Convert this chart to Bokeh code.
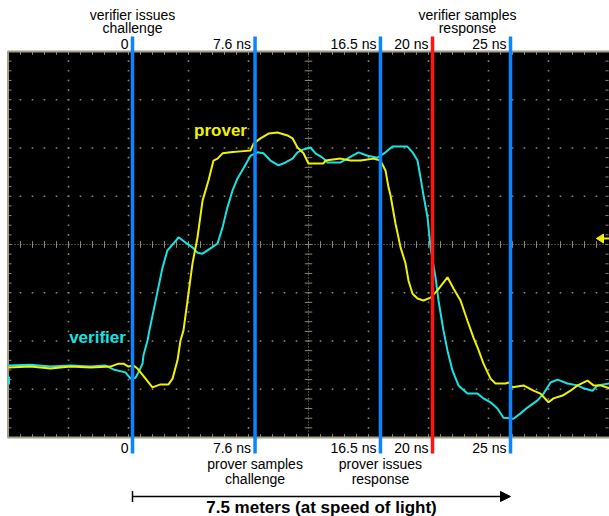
import numpy as np
from bokeh.plotting import figure
from bokeh.models import Range1d, Arrow, NormalHead, TeeHead
from bokeh.core.properties import value
from bokeh.embed import file_html
from bokeh.resources import INLINE

# ---------------- data (time in ns, amplitude in scope divisions) ----------------
t_prover = [-8.27, -6.8, -5.47, -4.13, -2.8, -1.47, -0.93, -0.6, -0.27, 0.07,
            0.33, 0.87, 1.33, 1.87, 2.4, 2.67, 3.0, 3.2, 3.4, 3.67,
            4.0, 4.33, 4.67, 5.07, 5.4, 5.67, 6.0, 6.53, 7.2, 7.87,
            8.07, 8.53, 9.07, 9.67, 10.33, 10.67, 11.0, 11.4, 11.73, 12.73,
            12.87, 13.87, 14.53, 15.2, 16.07, 16.53, 16.87, 17.07, 17.2, 17.53,
            17.87, 18.2, 18.4, 18.67, 19.0, 19.4, 19.87, 20.33, 21.0, 21.4,
            21.87, 22.33, 22.73, 23.0, 23.4, 23.87, 24.2, 24.87, 25.07, 25.33,
            26.07, 26.73, 27.2, 27.73, 28.07, 28.67, 29.2, 29.67, 30.33, 30.73,
            31.2, 31.8]
v_prover = [-2.55, -2.53, -2.57, -2.53, -2.55, -2.53, -2.47, -2.47, -2.53, -2.51,
            -2.57, -2.78, -2.96, -2.90, -2.90, -2.78, -2.40, -1.99, -1.78, -1.16,
            -0.39, 0.14, 0.91, 1.33, 1.74, 1.78, 1.89, 1.91, 1.93, 1.95,
            2.09, 2.20, 2.30, 2.32, 2.26, 2.20, 2.01, 1.89, 1.68, 1.68,
            1.74, 1.78, 1.74, 1.74, 1.78, 1.74, 1.53, 1.18, 1.02, 0.44,
            -0.06, -0.39, -0.75, -1.02, -1.12, -1.16, -1.10, -0.95, -0.68, -0.91,
            -1.16, -1.58, -1.93, -2.13, -2.47, -2.78, -2.88, -2.88, -2.86, -2.96,
            -2.92, -3.03, -3.09, -3.27, -3.19, -3.13, -3.03, -2.92, -2.82, -2.92,
            -2.92, -2.98]

t_verifier = [-8.27, -6.8, -5.47, -4.13, -2.8, -1.8, -1.27, -0.47, -0.13, 0.2,
              0.4, 0.67, 0.73, 1.0, 1.13, 2.0, 2.33, 2.73, 3.07, 3.53,
              4.0, 4.33, 4.67, 5.2, 5.67, 6.0, 6.33, 6.67, 7.0, 7.4,
              7.87, 8.33, 8.73, 9.2, 9.73, 10.2, 10.67, 11.0, 11.4, 11.87,
              12.2, 12.67, 13.0, 13.87, 14.33, 14.67, 15.07, 15.67, 16.33, 16.87,
              17.33, 18.33, 18.67, 19.0, 19.2, 19.4, 19.67, 19.87, 20.2, 20.4,
              20.73, 21.0, 21.33, 21.73, 22.33, 23.0, 23.4, 23.87, 24.33, 24.73,
              25.4, 25.87, 26.33, 27.0, 27.4, 27.87, 28.33, 29.0, 29.67, 30.07,
              30.67, 31.0, 31.8]
v_verifier = [-2.51, -2.49, -2.53, -2.51, -2.53, -2.51, -2.59, -2.65, -2.78, -2.76,
              -2.65, -2.47, -2.30, -1.99, -1.78, -0.48, -0.12, 0.02, 0.15, 0.04,
              -0.06, -0.17, -0.19, -0.08, 0.02, 0.35, 0.77, 1.12, 1.37, 1.58,
              1.84, 1.91, 1.89, 1.74, 1.64, 1.70, 1.78, 1.91, 1.97, 2.01,
              1.89, 1.80, 1.70, 1.70, 1.78, 1.84, 1.91, 1.84, 1.80, 1.91,
              2.03, 2.03, 1.91, 1.74, 1.39, 1.02, 0.56, -0.06, -0.68, -1.16,
              -1.78, -2.20, -2.61, -2.92, -3.09, -3.09, -3.19, -3.27, -3.40, -3.59,
              -3.61, -3.50, -3.38, -3.23, -3.09, -2.86, -2.80, -2.88, -2.92, -2.98,
              -3.03, -2.92, -2.88]

marker_t = [0.0, 8.17, 16.53, 20.0, 25.2]
marker_labels = ["0", "7.6 ns", "16.5 ns", "20 ns", "25 ns"]
marker_colors = ["#0a84ff", "#0a84ff", "#0a84ff", "#ff1414", "#0a84ff"]

# ---------------- screen geometry helpers (figure px -> data) ----------------
def X(px):
    return (px - 132.0) / 15.0

def Y(py):
    return (244.0 - py) / 48.25

T_LEFT = X(8)          # left edge of the scope screen
T_DIV = 4.0            # ns per division
T_RIGHT = T_LEFT + 10 * T_DIV
FONT = value("Liberation Sans")
GRID = "#8e8a70"

p = figure(width=609, height=516, x_range=Range1d(X(0), X(609)),
           y_range=Range1d(Y(516), Y(0)), output_backend="svg",
           toolbar_location=None, min_border=0)
p.axis.visible = False
p.grid.visible = False
p.outline_line_color = None
p.background_fill_color = "white"

# scope screen
p.quad(left=X(7), right=X(640), bottom=-4, top=4, fill_color="black", line_color=None)

# dotted graticule
gx, gy = [], []
for k in range(1, 10):
    if k == 5:
        continue
    for j in range(1, 40):
        gx.append(T_LEFT + k * T_DIV)
        gy.append(-4 + 0.2 * j)
for v in [-3, -2, -1, 1, 2, 3]:
    for j in range(1, 50):
        gx.append(T_LEFT + 0.8 * j)
        gy.append(v)
p.scatter(gx, gy, marker="square", size=1.6, fill_color=GRID, line_color=None)

# center cross
tc = T_LEFT + 5 * T_DIV
p.line([T_LEFT, T_RIGHT], [0, 0], line_color=GRID, line_width=1, line_dash="1 2")
p.line([tc, tc], [-4, 4], line_color=GRID, line_width=1, line_dash="1 2")
tick_t = [T_LEFT + 0.8 * j for j in range(1, 50)]
tick_v = [-4 + 0.2 * j for j in range(1, 40)]
p.segment(x0=tick_t, y0=[-0.07] * len(tick_t), x1=tick_t, y1=[0.07] * len(tick_t),
          line_color=GRID, line_width=1)
p.segment(x0=[tc - 0.25] * len(tick_v), y0=tick_v, x1=[tc + 0.25] * len(tick_v), y1=tick_v,
          line_color=GRID, line_width=1)

# edge ticks
p.segment(x0=tick_t, y0=[4] * len(tick_t), x1=tick_t, y1=[3.93] * len(tick_t),
          line_color=GRID, line_width=1)
p.segment(x0=tick_t, y0=[-4] * len(tick_t), x1=tick_t, y1=[-3.93] * len(tick_t),
          line_color=GRID, line_width=1)
p.segment(x0=[T_LEFT] * len(tick_v), y0=tick_v, x1=[T_LEFT + 0.2] * len(tick_v), y1=tick_v,
          line_color=GRID, line_width=1)
p.segment(x0=[T_RIGHT - 0.2] * len(tick_v), y0=tick_v, x1=[T_RIGHT] * len(tick_v), y1=tick_v,
          line_color=GRID, line_width=1)

# screen border (top, bottom, left)
p.line([X(640), X(7.5), X(7.5), X(640)], [4, 4, -4, -4], line_color="#a29e88", line_width=2)

# channel markers
p.patch([X(596), X(603), X(603)], [Y(238), Y(233.5), Y(242.5)], fill_color="#f0f000", line_color="#f0f000")
p.line([X(603), X(610)], [Y(238), Y(238)], line_color="#f0f000", line_width=2)
p.line([X(8.5), X(8.5)], [Y(376), Y(384)], line_color="#19e3e3", line_width=2)

# traces
p.line(t_verifier, v_verifier, line_color="#19e3e3", line_width=2)
p.line(t_prover, v_prover, line_color="#f2f200", line_width=2)

# marker lines
p.segment(x0=marker_t, y0=[Y(36)] * 5, x1=marker_t, y1=[Y(453)] * 5,
          line_color=marker_colors, line_width=3.5)

# marker time labels, top and bottom
p.text(x=marker_t, y=[Y(43)] * 5, text=marker_labels, text_font=FONT,
       text_font_size="14px", text_align="right", text_baseline="middle",
       x_offset=-4, text_color="black")
p.text(x=marker_t, y=[Y(447)] * 5, text=marker_labels, text_font=FONT,
       text_font_size="14px", text_align="right", text_baseline="middle",
       x_offset=-4, text_color="black")

# event captions
cap_x = [marker_t[0], marker_t[0], X(467), X(467),
         marker_t[1], marker_t[1], marker_t[2], marker_t[2]]
cap_y = [Y(14), Y(27), Y(14), Y(27), Y(463), Y(478), Y(463), Y(478)]
cap_text = ["verifier issues", "challenge", "verifier samples", "response",
            "prover samples", "challenge", "prover issues", "response"]
p.text(x=cap_x, y=cap_y, text=cap_text, text_font=FONT, text_font_size="14px",
       text_align="center", text_baseline="middle", text_color="black")

# trace names
p.text(x=[X(220)], y=[Y(130)], text=["prover"], text_font=FONT, text_font_size="17px",
       text_font_style="bold", text_align="center", text_baseline="middle", text_color="#f2f200")
p.text(x=[X(97)], y=[Y(337)], text=["verifier"], text_font=FONT, text_font_size="17px",
       text_font_style="bold", text_align="center", text_baseline="middle", text_color="#19e3e3")

# distance arrow
p.add_layout(Arrow(x_start=marker_t[0], y_start=Y(496), x_end=marker_t[4], y_end=Y(496),
                   line_width=1.5, line_color="black",
                   start=TeeHead(size=11, line_width=1.5, line_color="black"),
                   end=NormalHead(size=10, fill_color="black", line_color="black")))
p.text(x=[(marker_t[0] + marker_t[4]) / 2], y=[Y(507)], text=["7.5 meters (at speed of light)"],
       text_font=FONT, text_font_size="17px", text_font_style="bold",
       text_align="center", text_baseline="middle", text_color="black")

open("out.html", "w").write(file_html(p, INLINE))
